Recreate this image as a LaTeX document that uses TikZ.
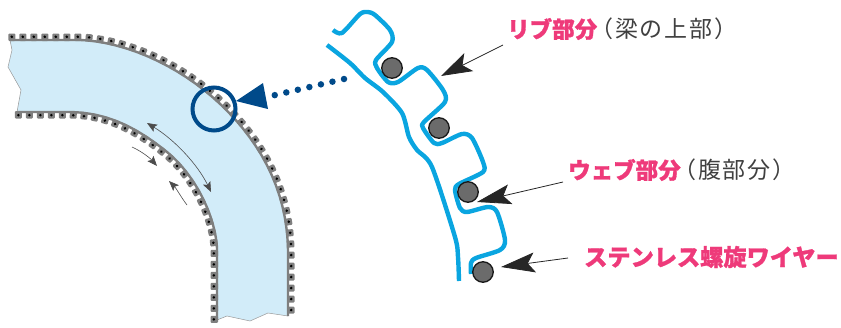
\documentclass[tikz,border=0pt]{standalone}
\usepackage{fontspec}
\usepackage{xcolor}
\usetikzlibrary{arrows.meta,positioning,decorations.markings}
\newfontfamily\cjk{Noto Sans CJK JP}[BoldFeatures={FakeBold=1.2}]
\newfontfamily\cjkspaced{Noto Sans CJK JP}[LetterSpace=8]
\definecolor{beamblue}{HTML}{D2ECF9}
\definecolor{wirecyan}{HTML}{0AA5E0}
\definecolor{ringblue}{HTML}{004A8A}
\definecolor{labelpink}{HTML}{EE3A7A}
\definecolor{toothgray}{HTML}{7F7F7F}
\tikzset{
  toothrow/.style={postaction={decorate,decoration={markings,
    mark=between positions 0.004 and 1 step 11pt with {
      \fill[toothgray, rounded corners=1pt] (-3.5,#1*-1) rectangle (3.5,#1*6.5);
      \fill[black] (0,#1*3.2) circle (1.4);}}}},
  beamedge/.style={draw=toothgray, line width=2.4pt},
  wire/.style={wirecyan, line width=4.4pt, line cap=butt, line join=round},
  stainless/.style={circle, draw=black!90, fill=black!58, line width=1.3pt, minimum size=20.5pt, inner sep=0pt},
  leader/.style={black!85, line width=0.8pt},
  headtip/.style={-{Stealth[length=#1, width=20pt, inset=7pt]}},
  pinktext/.style={font=\cjk\bfseries\fontsize{22.5pt}{24pt}\selectfont, labelpink, inner sep=0pt},
  graytext/.style={font=\cjkspaced\fontsize{23pt}{24pt}\selectfont, black!75, inner sep=0pt},
  smallarrow/.style={black!70, line width=0.6pt, -{Stealth[length=10pt, width=8pt, inset=2pt]}}
}
\begin{document}
\begin{tikzpicture}[x=1pt, y=-1pt]
\useasboundingbox (0,0) rectangle (841,327);
% Beam
\fill[beamblue] (10,40) -- (80,40) .. controls (130,42) and (190,70) .. (233,117) .. controls (265,152) and (287,195) .. (288,250) -- (288,316) -- (268,313) -- (250,321) -- (227,316) -- (217,320) -- (217,248) .. controls (215,215) and (195,175) .. (167,152) .. controls (130,122) and (100,112) .. (67,112) -- (17,112) -- (21,90) -- (8,67) -- (12,50) -- cycle;
\draw[gray!80, line width=0.5pt] (10,40) -- (12,50) -- (8,67) -- (21,90) -- (17,112);
\draw[gray!80, line width=0.5pt] (217,320) -- (227,316) -- (250,321) -- (268,313) -- (288,316);
% Outer edge
\draw[beamedge, toothrow=-1] (10,40) -- (80,40) .. controls (130,42) and (190,70) .. (233,117) .. controls (265,152) and (287,195) .. (288,250) -- (288,316);
% Inner edge
\draw[beamedge, toothrow=1] (17,112) -- (67,112) .. controls (100,112) and (130,122) .. (167,152) .. controls (195,175) and (215,215) .. (217,248) -- (217,320);
% Stress arrows
\draw[black!70, line width=0.6pt, {Stealth[length=10pt, width=8pt, inset=2pt]}-{Stealth[length=10pt, width=8pt, inset=2pt]}] (147,123) .. controls (175,140) and (198,165) .. (211,192);
\draw[smallarrow] (132,147) .. controls (141,151) and (150,158) .. (157,166);
\draw[smallarrow] (187,205) .. controls (181,197) and (176,188) .. (169,181);
% Detail ring and pointer
\node[circle, draw=ringblue, line width=4pt, minimum size=43pt, inner sep=0pt] (ring) at (214,109) {};
\coordinate (dotstart) at (344,79);
\coordinate (dotend) at (271,96);
\draw[ringblue, line width=6.5pt, line cap=round, dash pattern=on 0pt off 11.85pt] (dotstart) -- (dotend);
\fill[ringblue] (236,101) -- (263,83) -- (268,109) -- cycle;
% Wire
\draw[wire] plot[smooth, tension=0.45] coordinates {(333,30) (342,33) (360,14) (368,12) (375,15) (390,30) (392,42) (376,60) (377,68) (388,82) (398,82) (418,68) (427,70) (443,90) (445,102) (424,122) (423,128) (434,143) (442,143) (462,134) (472,138) (483,162) (483,172) (459,184) (455,190) (460,208) (467,212) (488,207) (497,212) (505,240) (500,250) (476,258) (471,263) (471,274)};
\draw[wire] plot[smooth, tension=0.45] coordinates {(327,45) (350,63) (365,78) (383,92) (402,113) (409,137) (417,150) (432,167) (455,237) (458,257) (459,281)};
% Stainless wires
\node[stainless] (wirea) at (392,68) {};
\node[stainless] (wireb) at (439,128) {};
\node[stainless] (wirec) at (468,192) {};
\node[stainless] (wired) at (483,272) {};
% Labels
\node[pinktext, anchor=west] (ribname) at (507,29) {リブ部分};
\node[graytext, anchor=west] (ribnote) at (590,29) {（梁の上部）};
\node[pinktext, anchor=west] (webname) at (568,170) {ウェブ部分};
\node[graytext, anchor=west] (webnote) at (673,170) {（腹部分）};
\node[pinktext, anchor=west, font=\cjk\bfseries\fontsize{23.2pt}{24pt}\selectfont] (wirename) at (584,257) {ステンレス螺旋ワイヤー};
% Leaders
\coordinate (ribtail) at (503,45);
\coordinate (ribtip) at (441,76);
\coordinate (webtail) at (563,182);
\coordinate (webtip) at (477,202);
\coordinate (wiretail) at (568,258);
\coordinate (wiretip) at (501,267);
\draw[leader, headtip=31pt] (ribtail) -- (ribtip);
\draw[leader, headtip=34pt] (webtail) -- (webtip);
\draw[leader, headtip=34pt] (wiretail) -- (wiretip);
\end{tikzpicture}
\end{document}
